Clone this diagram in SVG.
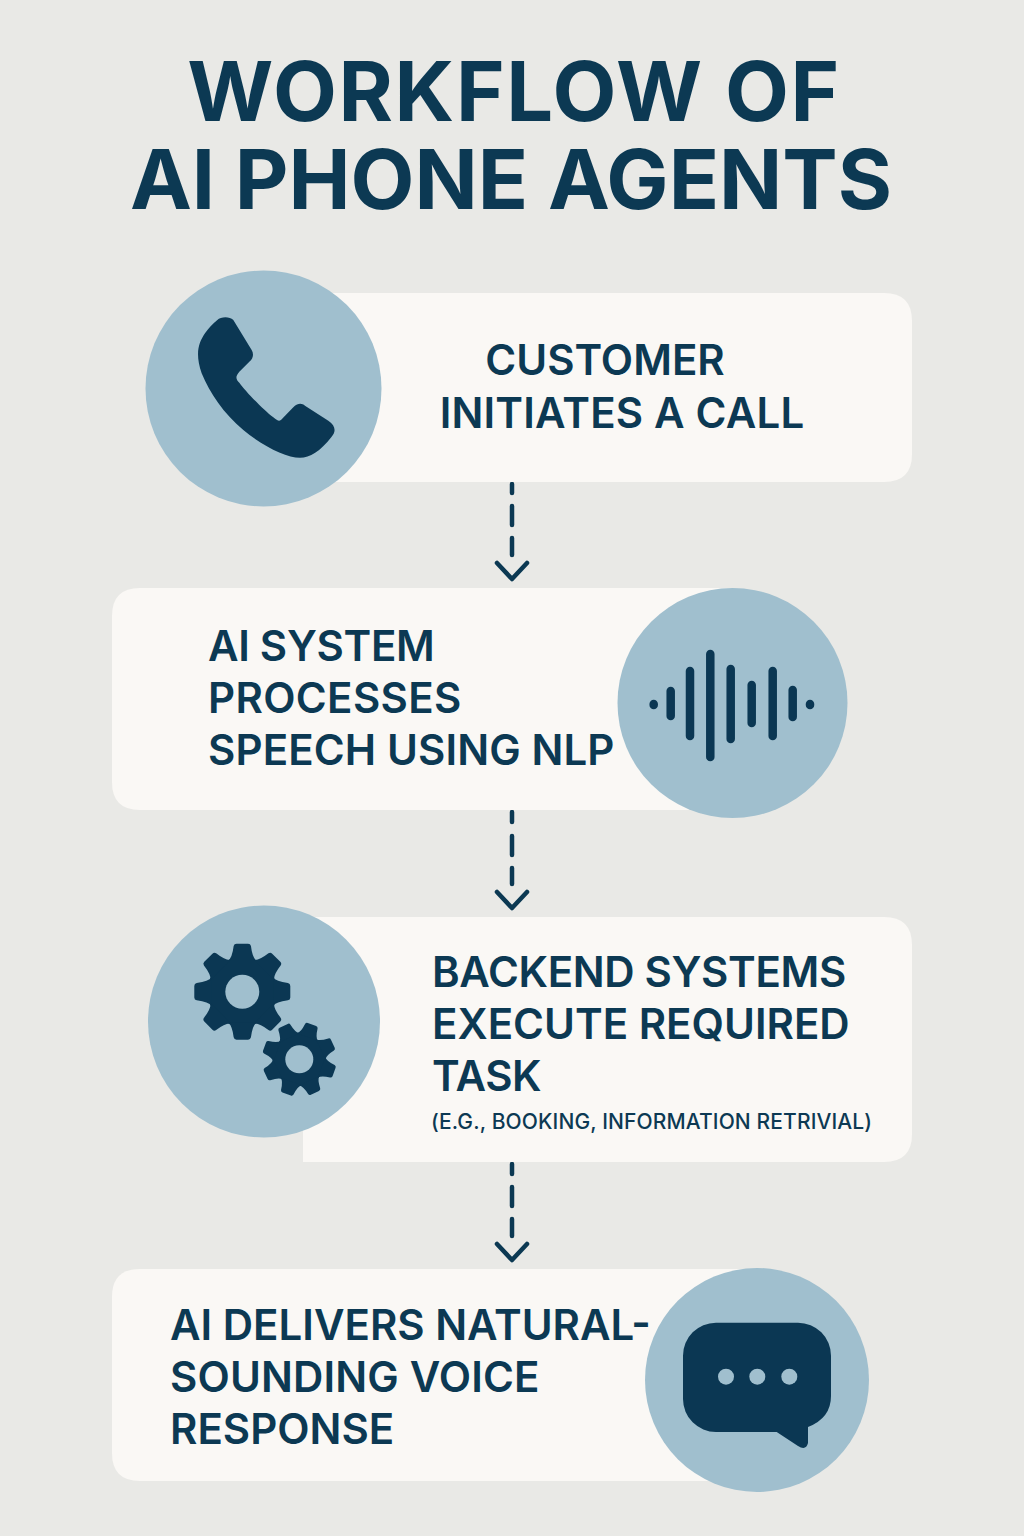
<svg xmlns="http://www.w3.org/2000/svg" xmlns:xlink="http://www.w3.org/1999/xlink" width="1024" height="1536" viewBox="0 0 1024 1536">
<style>
.card{fill:#faf8f5}
.disc{fill:#a0bfce}
.ink{fill:#0b3753}
.t{font-family:"Inter","Liberation Sans",sans-serif;font-weight:600;font-size:42px;fill:#0c3953}
.title{font-family:"Inter","Liberation Sans",sans-serif;font-weight:700;font-size:83px;fill:#0c3953}
.small{font-family:"Inter","Liberation Sans",sans-serif;font-weight:500;font-size:21px;letter-spacing:.12px;fill:#0c3953}
.bars line{stroke:#0b3753;stroke-width:8.500;stroke-linecap:round}
.conn path{fill:none;stroke:#0c3953;stroke-width:4.500;stroke-linecap:round;stroke-linejoin:round}
</style>
<defs>
<g id="gear">
<circle r="72" class="ink"/>
<g id="teeth"><path id="tooth" class="ink" d="M-30-64Q-21-70-18-95Q-17-100-12-100L12-100Q17-100 18-95Q21-70 30-64Z"/>
<use xlink:href="#tooth" href="#tooth" transform="rotate(45)"/><use xlink:href="#tooth" href="#tooth" transform="rotate(90)"/><use xlink:href="#tooth" href="#tooth" transform="rotate(135)"/><use xlink:href="#tooth" href="#tooth" transform="rotate(180)"/><use xlink:href="#tooth" href="#tooth" transform="rotate(225)"/><use xlink:href="#tooth" href="#tooth" transform="rotate(270)"/><use xlink:href="#tooth" href="#tooth" transform="rotate(315)"/></g>
</g>
</defs>
<rect id="background" width="1024" height="1536" fill="#e9e9e6"/>
<g id="title">
<text class="title"><tspan x="514" y="121" text-anchor="middle" letter-spacing="1.600">WORKFLOW OF</tspan><tspan x="511" y="209" text-anchor="middle">AI PHONE AGENTS</tspan></text>
</g>
<g id="connectors" class="conn">
<path d="M512 484V493M512 506V525M512 538V555M497 563L512 579L527 563"/>
<path d="M512 812V822M512 836V855M512 868V884M497 892L512 908L527 892"/>
<path d="M512 1164V1174M512 1187V1206M512 1219V1236M497 1244L512 1260L527 1244"/>
</g>
<g id="step1">
<path class="card" d="M300 293H884Q912 293 912 321V454Q912 482 884 482H300Z"/>
<circle class="disc" cx="263.500" cy="388.500" r="118"/>
<path class="ink" transform="translate(130 260) scale(.3333)" d="M262 180C272 170 298 168 310 180L365 270C372 282 370 295 358 305L328 335C315 350 318 358 328 368C345 392 400 450 430 472C445 485 450 485 458 475L490 442C505 428 515 430 525 437L595 482C618 498 618 515 605 530C570 575 540 593 510 593C470 593 400 560 340 510C280 460 240 400 215 340C195 280 205 250 225 220C235 205 248 192 262 180Z"/>
<text class="t" x="605" y="375" text-anchor="middle">CUSTOMER</text>
<text class="t" x="622" y="428" text-anchor="middle" letter-spacing=".2">INITIATES A CALL</text>
</g>
<g id="step2">
<path class="card" d="M732 588H140Q112 588 112 616V782Q112 810 140 810H732Z"/>
<circle class="disc" cx="732.500" cy="703" r="115"/>
<g class="bars">
<line x1="653.700" y1="704" x2="653.700" y2="705"/>
<line x1="670.700" y1="691" x2="670.700" y2="716"/>
<line x1="690" y1="671" x2="690" y2="736"/>
<line x1="710.300" y1="654" x2="710.300" y2="757"/>
<line x1="730.700" y1="669" x2="730.700" y2="739"/>
<line x1="751.700" y1="685" x2="751.700" y2="723"/>
<line x1="772.700" y1="671" x2="772.700" y2="736"/>
<line x1="792.700" y1="690" x2="792.700" y2="717"/>
<line x1="810" y1="704" x2="810" y2="705"/>
</g>
<text class="t" x="208" y="661" letter-spacing="-.3">AI SYSTEM</text>
<text class="t" x="208" y="713" letter-spacing=".35">PROCESSES</text>
<text class="t" x="208" y="765" letter-spacing=".12">SPEECH USING NLP</text>
</g>
<g id="step3">
<path class="card" d="M303 1162V917H884Q912 917 912 945V1134Q912 1162 884 1162Z"/>
<circle class="disc" cx="264" cy="1021.500" r="116"/>
<use xlink:href="#gear" href="#gear" transform="translate(242.300 991.700) scale(.48)"/>
<circle class="disc" cx="242.300" cy="991.700" r="17"/>
<use xlink:href="#gear" href="#gear" transform="translate(299.300 1059.300) rotate(20) scale(.37)"/>
<circle class="disc" cx="299.300" cy="1059.300" r="14"/>
<text class="t" x="432" y="987" letter-spacing="-.35">BACKEND SYSTEMS</text>
<text class="t" x="432" y="1039">EXECUTE REQUIRED</text>
<text class="t" x="432" y="1091" letter-spacing="-.5">TASK</text>
<text class="small" x="431" y="1129">(E.G., BOOKING, INFORMATION RETRIVIAL)</text>
</g>
<g id="step4">
<path class="card" d="M757 1269H140Q112 1269 112 1297V1453Q112 1481 140 1481H757Z"/>
<circle class="disc" cx="757" cy="1380" r="112"/>
<path class="ink" d="M716 1322.700H798A33 33 0 0 1 831 1355.700V1396Q831 1418 808 1427V1443Q806 1451 798 1446L776.700 1432H716A33 33 0 0 1 683 1399V1355.700A33 33 0 0 1 716 1322.700Z"/>
<circle class="disc" cx="726" cy="1376.700" r="8"/>
<circle class="disc" cx="757.300" cy="1376.700" r="8"/>
<circle class="disc" cx="789.300" cy="1376.700" r="8"/>
<text class="t" x="170" y="1340">AI DELIVERS NATURAL-</text>
<text class="t" x="170" y="1392" letter-spacing=".15">SOUNDING VOICE</text>
<text class="t" x="170" y="1444">RESPONSE</text>
</g>
</svg>
